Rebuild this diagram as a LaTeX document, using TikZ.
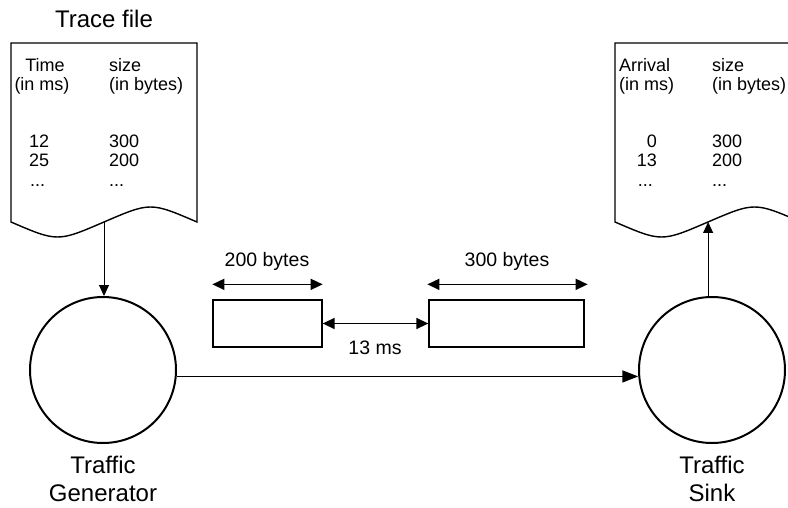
\documentclass[tikz,border=0pt]{standalone}
\usepackage{fontspec}
\setmainfont{Liberation Sans}
\usetikzlibrary{arrows.meta,calc}
\begin{document}
\begin{tikzpicture}[x=1pt,y=-1pt,
  doctext/.style={font=\fontsize{18}{20}\selectfont, inner sep=0pt},
  labeltext/.style={font=\fontsize{19.5}{22}\selectfont, inner sep=0pt},
  bigtext/.style={font=\fontsize{24}{28}\selectfont, inner sep=0pt},
  docshape/.style={draw, line width=1.4pt, fill=white},
  station/.style={circle, draw, line width=2pt, minimum size=146pt, inner sep=0pt},
  packet/.style={draw, line width=1.3pt, minimum height=47pt, inner sep=0pt},
  flow/.style={line width=1pt, -{Triangle[length=11pt,width=10pt]}},
  span/.style={line width=1.5pt, {Triangle[length=12pt,width=11pt]}-{Triangle[length=12pt,width=11pt]}},
  mainflow/.style={line width=1.5pt, -{Triangle[length=16pt,width=12pt]}},
]
\clip (0,0) rectangle (788,508);
\fill[white] (0,0) rectangle (788,508);

% trace file document
\draw[docshape] (11,222) -- (11,43) -- (197,43) -- (197,222)
  .. controls (150.5,202) .. (104,222)
  .. controls (57.5,242) .. (11,222) -- cycle;
\coordinate (tracemid) at (104,222);
\node[bigtext, anchor=base] (tracetitle) at (104,28) {Trace file};
\node[doctext, anchor=base] (tTime) at (45,72) {Time};
\node[doctext, anchor=base] (tInms) at (42,91) {(in ms)};
\node[doctext, anchor=base west] (tSize) at (109,72) {size};
\node[doctext, anchor=base west] (tInbytes) at (109,91) {(in bytes)};
\node[doctext, anchor=base west] (t12) at (29,148) {12};
\node[doctext, anchor=base west] (t25) at (29,167) {25};
\node[doctext, anchor=base west] (tdots) at (30,187) {...};
\node[doctext, anchor=base west] (t300) at (109,148) {300};
\node[doctext, anchor=base west] (t200) at (109,167) {200};
\node[doctext, anchor=base west] (tdots2) at (109,187) {...};

% arrival document
\draw[docshape] (615,222) -- (615,43) -- (801,43) -- (801,222)
  .. controls (754.5,202) .. (708,222)
  .. controls (661.5,242) .. (615,222) -- cycle;
\coordinate (sinkmid) at (708,222);
\node[doctext, anchor=base west] (aArrival) at (619,72) {Arrival};
\node[doctext, anchor=base west] (aInms) at (619,91) {(in ms)};
\node[doctext, anchor=base west] (aSize) at (712,72) {size};
\node[doctext, anchor=base west] (aInbytes) at (712,91) {(in bytes)};
\node[doctext, anchor=base east] (a0) at (657,148) {0};
\node[doctext, anchor=base east] (a13) at (657,167) {13};
\node[doctext, anchor=base east] (adots) at (653,187) {...};
\node[doctext, anchor=base west] (a300) at (712,148) {300};
\node[doctext, anchor=base west] (a200) at (712,167) {200};
\node[doctext, anchor=base west] (adots2) at (712,187) {...};

% stations
\node[station] (gen) at (103,370) {};
\node[station] (sink) at (712,370) {};
\node[bigtext, anchor=base] (genl1) at (103,473) {Traffic};
\node[bigtext, anchor=base] (genl2) at (103,501) {Generator};
\node[bigtext, anchor=base] (sinkl1) at (712,473) {Traffic};
\node[bigtext, anchor=base] (sinkl2) at (712,501) {Sink};

% packets
\node[packet, minimum width=109pt] (p200) at (267.5,323.5) {};
\node[packet, minimum width=155pt] (p300) at (506.5,323.5) {};
\coordinate (s200a) at ($(p200.north west)+(0,-15)$);
\coordinate (s200b) at ($(p200.north east)+(0,-15)$);
\coordinate (s300a) at ($(p300.north west)+(-1,-15)$);
\coordinate (s300b) at ($(p300.north east)+(3,-15)$);
\draw[span] (s200a) -- (s200b);
\draw[span] (s300a) -- (s300b);
\draw[span] (p200.east) -- (p300.west);
\node[labeltext] (l200) at (267,261) {200 bytes};
\node[labeltext] (l300) at (507,261) {300 bytes};
\node[labeltext] (l13) at (375,348) {13 ms};

% connectors
\draw[flow] (tracemid) -- (tracemid |- gen.north);
\draw[flow] (sink.93) -- (sink.93 |- sinkmid);
\draw[mainflow] (gen.-5.5) -- (sink.185.5);
\end{tikzpicture}
\end{document}
